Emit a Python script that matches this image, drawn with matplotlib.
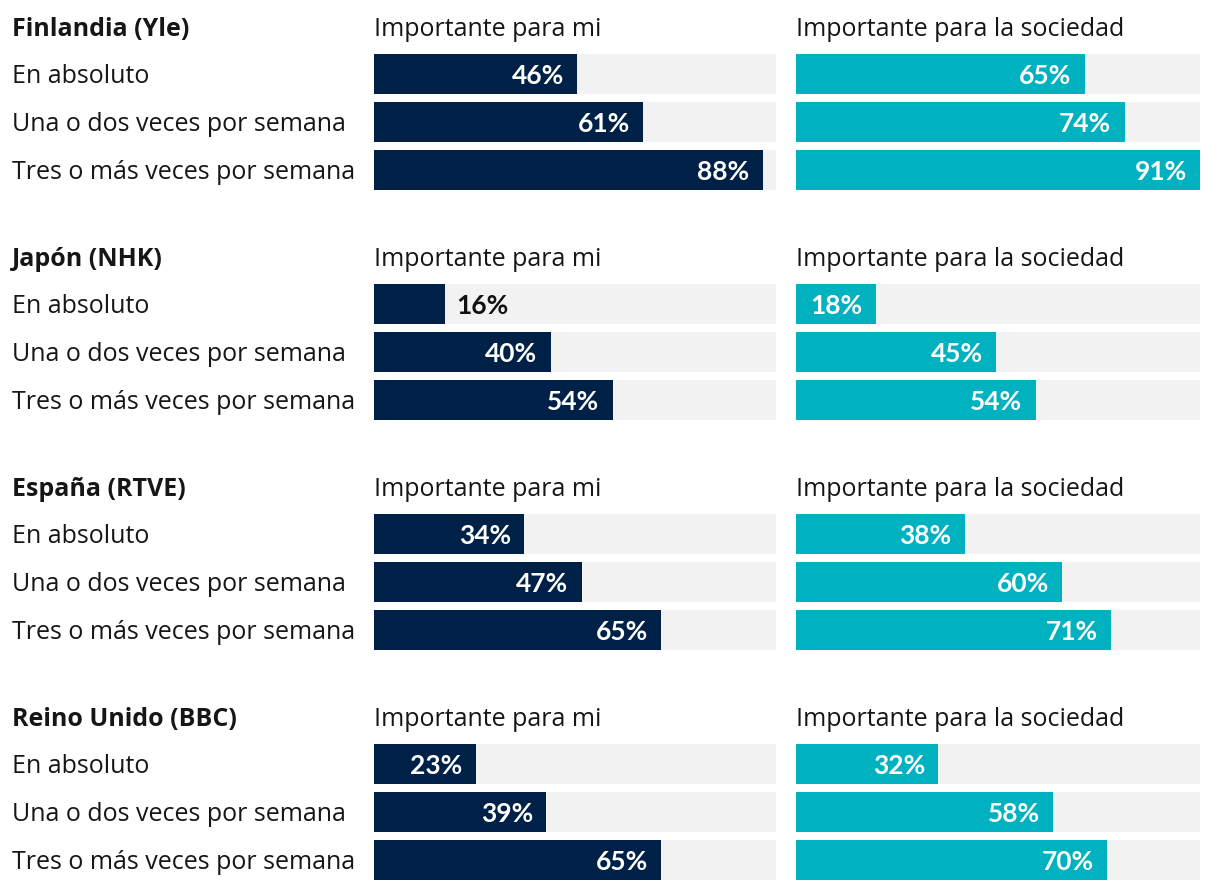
import matplotlib
matplotlib.use("Agg")
import matplotlib.pyplot as plt
from matplotlib.transforms import blended_transform_factory

# datos
paises = ["Finlandia (Yle)", "Japón (NHK)", "España (RTVE)", "Reino Unido (BBC)"]
frecuencias = ["En absoluto", "Una o dos veces por semana", "Tres o más veces por semana"]
columnas = ["Importante para mi", "Importante para la sociedad"]
para_mi = [[46, 61, 88], [16, 40, 54], [34, 47, 65], [23, 39, 65]]
para_sociedad = [[65, 74, 91], [18, 45, 54], [38, 60, 71], [32, 58, 70]]

colores = ["#002147", "#00B2BF"]
fondo = "#F2F2F2"
fuente = "Open Sans"
fuente_valor = "Lato"
tam = 18

W, H = 1220, 890
fig = plt.figure(figsize=(W / 100, H / 100), dpi=100)
fig.patch.set_facecolor("white")

xmax = max(max(max(r) for r in para_mi), max(max(r) for r in para_sociedad))
col_x = [(374, 402), (796, 404)]   # izquierda y ancho en px
fila_px = 48
alto_barra = 40 / 48

for g, pais in enumerate(paises):
    top = 49.5 + 230 * g
    series = [para_mi[g], para_sociedad[g]]
    for c, (x0, w) in enumerate(col_x):
        ax = fig.add_axes([x0 / W, 1 - (top + 3 * fila_px) / H, w / W, 3 * fila_px / H])
        ax.set_xlim(0, xmax)
        ax.set_ylim(2.5, -0.5)
        ax.axis("off")
        filas = range(len(frecuencias))
        ax.barh(filas, [xmax] * 3, height=alto_barra, color=fondo, linewidth=0)
        ax.barh(filas, series[c], height=alto_barra, color=colores[c], linewidth=0)
        for i, v in enumerate(series[c]):
            if v >= 17:
                ax.annotate(f"{v}%", (v, i), xytext=(-9.5, 0), textcoords="offset points",
                            ha="right", va="center_baseline", color="white", fontsize=19,
                            fontweight="bold", family=fuente_valor)
            else:
                ax.annotate(f"{v}%", (v, i), xytext=(8.5, 0), textcoords="offset points",
                            ha="left", va="center_baseline", color="#111111", fontsize=19,
                            fontweight="bold", family=fuente_valor)
        # encabezado de columna
        ax.text(0, -0.98, columnas[c], ha="left", va="center_baseline", fontsize=tam,
                family=fuente, color="#161616", clip_on=False)
        if c == 0:
            tr = blended_transform_factory(fig.transFigure, ax.transData)
            ax.text(12 / W, -0.98, pais, transform=tr, ha="left", va="center_baseline",
                    fontsize=tam, fontweight="bold", family=fuente, color="#161616")
            for i, f in enumerate(frecuencias):
                ax.text(12 / W, i, f, transform=tr, ha="left", va="center_baseline",
                        fontsize=tam, family=fuente, color="#161616")

fig.savefig("out.png", dpi=100)
